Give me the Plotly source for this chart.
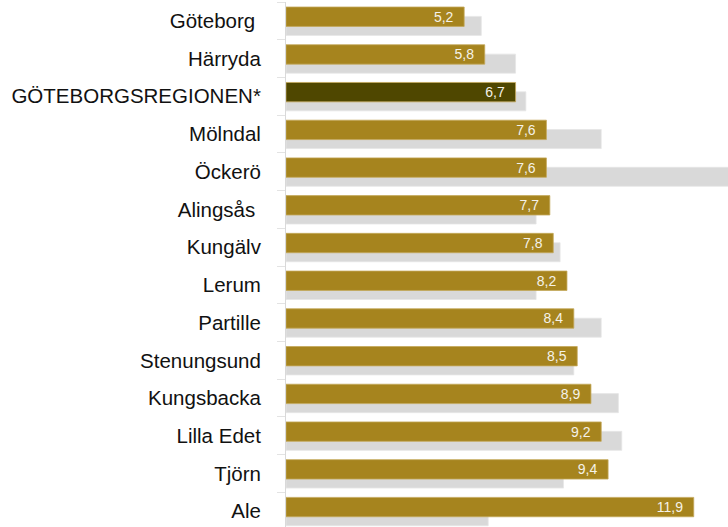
import plotly.graph_objects as go

categories = ["Göteborg\u00a0", "Härryda", "GÖTEBORGSREGIONEN*", "Mölndal", "Öckerö",
              "Alingsås\u00a0", "Kungälv", "Lerum", "Partille", "Stenungsund",
              "Kungsbacka", "Lilla Edet", "Tjörn", "Ale"]
values = [5.2, 5.8, 6.7, 7.6, 7.6, 7.7, 7.8, 8.2, 8.4, 8.5, 8.9, 9.2, 9.4, 11.9]
comparison = [5.7, 6.7, 7.0, 9.2, 13.5, 7.3, 8.0, 7.3, 9.2, 8.4, 9.7, 9.8, 8.1, 5.9]

GOLD = "#A6841E"
DARK = "#4F4700"
GREY = "#D9D9D9"

bar_colors = [DARK if c.startswith("GÖTEBORGSREGIONEN") else GOLD for c in categories]
labels = [f"{v:.1f}".replace(".", ",") + "\u00a0\u00a0" for v in values]

fig = go.Figure()
fig.add_trace(go.Bar(
    y=categories, x=comparison, orientation="h",
    marker=dict(color=GREY, line=dict(color="#E6E6E6", width=0.8)),
    width=0.504, offset=-0.118, hoverinfo="skip", showlegend=False,
))
fig.add_trace(go.Bar(
    y=categories, x=values, orientation="h",
    marker=dict(color=bar_colors, line=dict(color="#C4A85A", width=0.8)),
    width=0.514, offset=-0.367,
    text=labels, textposition="inside", insidetextanchor="end",
    textangle=0, constraintext="none",
    textfont=dict(family="Liberation Sans, Arial, sans-serif", size=14, color="#F5F2E8"),
    showlegend=False,
))

fig.update_layout(
    width=728, height=527,
    margin=dict(l=286, r=0, t=2, b=0),
    barmode="overlay",
    plot_bgcolor="white", paper_bgcolor="white",
    xaxis=dict(range=[0, 12.9], visible=False, showgrid=False, zeroline=False, fixedrange=True),
    yaxis=dict(
        type="category", range=[13.418, -0.5], showgrid=False, zeroline=False,
        showline=True, linecolor="#D9D9D9", linewidth=1,
        ticks="outside", tickson="boundaries", ticklen=8, tickcolor="#E3E3E3", tickwidth=1,
        ticklabelstandoff=20,
        tickfont=dict(family="Liberation Sans, Arial, sans-serif", size=20.5, color="#111111"),
    ),
)

fig.write_html(
    "out.html",
    config={"displayModeBar": False},
    post_script="document.body.style.margin='0';document.body.style.overflow='hidden';",
)
